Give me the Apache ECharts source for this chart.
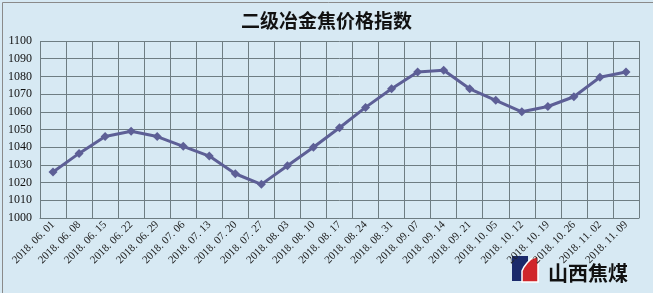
<!DOCTYPE html>
<html><head><meta charset="utf-8">
<script src="https://cdn.jsdelivr.net/npm/echarts@6/dist/echarts.min.js"></script>
<style>html,body{margin:0;padding:0;background:#d7e9f3;}#c{width:653px;height:293px;}</style>
</head><body><div id="c"></div>
<script>
const title = "二级冶金焦价格指数";
const categories = ["2018. 06. 01","2018. 06. 08","2018. 06. 15","2018. 06. 22","2018. 06. 29","2018. 07. 06","2018. 07. 13","2018. 07. 20","2018. 07. 27","2018. 08. 03","2018. 08. 10","2018. 08. 17","2018. 08. 24","2018. 08. 31","2018. 09. 07","2018. 09. 14","2018. 09. 21","2018. 10. 05","2018. 10. 12","2018. 10. 19","2018. 10. 26","2018. 11. 02","2018. 11. 09"];
const values = [1026,1036.5,1046,1049,1046,1040.5,1035,1025,1019,1029.5,1040,1051,1062.5,1073,1082.5,1083.5,1073,1066.5,1060,1063,1068.5,1079.5,1082.5];
const yMin = 1000, yMax = 1100, yStep = 10;
const logoText = "山西焦煤";

const chart = echarts.init(document.getElementById('c'), null, {renderer:'canvas'});
chart.setOption({
  backgroundColor:'#d7e9f3',
  animation:false,
  title:{text:title,left:'center',top:6,textStyle:{fontFamily:'"Noto Sans CJK SC"',fontSize:19,fontWeight:'bold',color:'#111'}},
  grid:{left:40,right:14,top:41,bottom:75,containLabel:false},
  xAxis:{type:'category',data:categories,boundaryGap:true,
    axisLine:{lineStyle:{color:'#6e7d82',width:1}},
    axisTick:{show:false},
    splitLine:{show:true,interval:0,lineStyle:{color:'#6e7d82',width:1}},
    axisLabel:{interval:0,rotate:45,fontSize:11,color:'#222',fontFamily:'"Liberation Serif"',margin:5}},
  yAxis:{type:'value',min:yMin,max:yMax,interval:yStep,
    axisLine:{show:false},axisTick:{show:false},
    splitLine:{lineStyle:{color:'#6e7d82',width:1}},
    axisLabel:{fontSize:12,color:'#111',fontFamily:'"Liberation Serif"',margin:8,formatter:v=>String(v)}},
  series:[{type:'line',data:values,symbol:'diamond',symbolSize:9,
    lineStyle:{color:'#5d5f96',width:3},itemStyle:{color:'#5d5f96'}}],
  graphic:[
    {type:'rect',left:0,top:0,shape:{width:652,height:292},style:{fill:'none',stroke:'#8a8a8a',lineWidth:1},silent:true},
    {type:'rect',shape:{x:512,y:256,width:16,height:25},style:{fill:'#1b2a6b'}},
    {type:'polygon',shape:{points:[[538,256],[538,282],[522,282],[522,271],[524,267],[527,263],[531,259]]},style:{fill:'#d0262a',stroke:'#ffffff',lineWidth:1.5}},
    {type:'text',x:548,y:263,style:{text:logoText,fontSize:20,fontWeight:'bold',fill:'#111',fontFamily:'"Noto Sans CJK SC"'}}
  ]
});
</script></body></html>
